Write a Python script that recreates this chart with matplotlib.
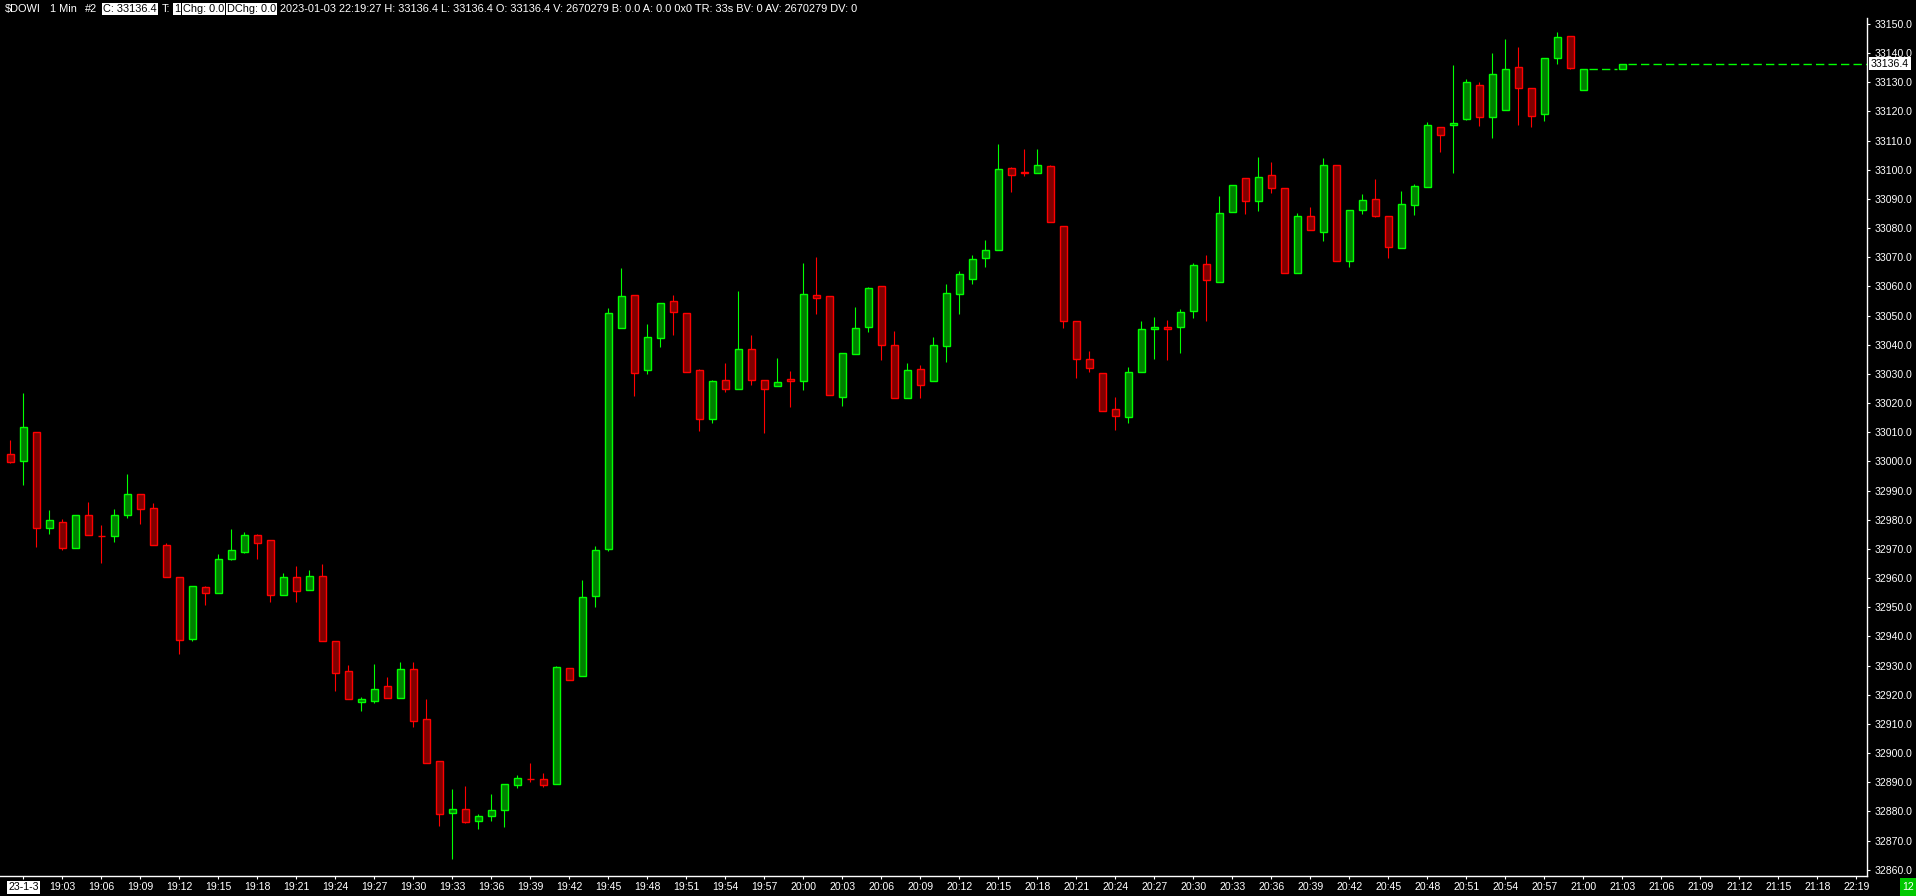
import matplotlib
matplotlib.use("Agg")
import matplotlib.pyplot as plt
import matplotlib.transforms as mtransforms
from matplotlib.patches import Rectangle

plt.rcParams['font.family'] = ['Liberation Sans', 'DejaVu Sans']

# 1 minute bars of $DOWI, 2023-01-03, bar index 0 = 18:59
bar_index = list(range(122)) + [124]

opens = [33002.4, 33000.0, 33010.0, 32977.1, 32979.4, 32970.2, 32981.5, 32974.6, 32974.3, 32981.5,
         32988.7, 32983.9, 32971.2, 32960.3, 32939.0, 32956.8, 32954.8, 32966.4, 32969.1, 32974.8,
         32972.9, 32954.3, 32960.3, 32955.8, 32960.6, 32938.3, 32928.0, 32917.4, 32918.0, 32922.9,
         32919.0, 32928.7, 32911.6, 32897.2, 32879.6, 32880.7, 32876.8, 32878.3, 32880.6, 32889.2,
         32891.1, 32891.0, 32889.3, 32929.1, 32926.3, 32953.7, 32969.9, 33045.6, 33057.0, 33031.2,
         33042.2, 33054.9, 33050.8, 33031.2, 33014.4, 33027.8, 33024.7, 33038.4, 33027.8, 33025.8,
         33028.2, 33027.7, 33057.0, 33056.6, 33022.0, 33036.7, 33046.0, 33060.1, 33039.8, 33021.6,
         33031.6, 33027.5, 33039.5, 33057.3, 33062.5, 33069.7, 33072.4, 33100.5, 33099.4, 33098.8,
         33101.2, 33080.6, 33048.0, 33035.0, 33030.2, 33017.9, 33015.1, 33030.6, 33045.3, 33046.0,
         33046.0, 33051.5, 33067.6, 33061.4, 33085.4, 33097.1, 33089.2, 33098.1, 33093.7, 33064.5,
         33084.1, 33078.8, 33101.5, 33068.6, 33086.1, 33089.9, 33084.1, 33073.1, 33088.1, 33094.0,
         33114.6, 33115.3, 33117.5, 33129.0, 33118.0, 33120.4, 33135.1, 33127.9, 33119.0, 33138.2,
         33145.8, 33127.3, 33134.5]
highs = [33007.4, 33023.5, 33010.0, 32983.3, 32980.1, 32981.8, 32986.1, 32978.2, 32983.7, 32995.7,
         32988.7, 32985.6, 32971.9, 32960.3, 32957.2, 32957.3, 32968.3, 32976.8, 32975.8, 32975.1,
         32972.9, 32961.7, 32964.1, 32962.8, 32964.8, 32938.3, 32930.2, 32919.2, 32930.5, 32926.1,
         32931.1, 32931.1, 32918.5, 32897.2, 32887.7, 32888.7, 32879.1, 32885.9, 32889.3, 32892.5,
         32896.6, 32893.2, 32929.8, 32929.1, 32959.3, 32971.0, 33052.5, 33066.3, 33057.0, 33047.1,
         33054.2, 33057.1, 33050.8, 33031.7, 33027.9, 33033.8, 33058.4, 33043.4, 33027.8, 33035.5,
         33031.0, 33068.1, 33070.1, 33056.6, 33037.1, 33053.0, 33059.8, 33060.1, 33044.6, 33033.8,
         33033.0, 33042.5, 33060.9, 33065.2, 33070.7, 33075.9, 33108.9, 33100.9, 33107.0, 33107.0,
         33101.5, 33080.6, 33048.0, 33037.9, 33030.2, 33022.1, 33032.4, 33048.2, 33049.5, 33048.5,
         33052.3, 33067.9, 33070.8, 33091.0, 33094.7, 33097.1, 33104.4, 33102.7, 33093.7, 33085.1,
         33087.1, 33104.1, 33101.5, 33086.1, 33091.7, 33096.9, 33084.1, 33092.7, 33095.1, 33116.4,
         33114.6, 33136.0, 33131.0, 33130.0, 33140.0, 33144.9, 33142.1, 33127.9, 33138.2, 33147.3,
         33145.8, 33134.5, 33136.4]
lows = [32999.4, 32992.0, 32970.8, 32975.2, 32969.7, 32970.2, 32974.7, 32965.3, 32972.5, 32980.7,
        32978.7, 32971.2, 32960.3, 32934.1, 32938.5, 32950.6, 32954.8, 32966.2, 32968.7, 32966.7,
        32951.9, 32954.3, 32951.9, 32955.8, 32938.3, 32921.4, 32918.6, 32914.5, 32917.3, 32919.0,
        32919.0, 32909.0, 32896.7, 32875.1, 32863.8, 32876.1, 32874.0, 32876.8, 32874.6, 32888.0,
        32890.2, 32888.5, 32889.3, 32924.9, 32926.3, 32950.2, 32969.4, 33045.6, 33022.5, 33030.1,
        33039.4, 33043.5, 33030.6, 33010.5, 33013.1, 33023.9, 33024.7, 33026.3, 33009.9, 33025.8,
        33018.8, 33024.5, 33050.7, 33022.7, 33019.1, 33036.7, 33044.5, 33034.9, 33021.6, 33021.6,
        33021.9, 33027.5, 33034.2, 33050.7, 33061.0, 33066.8, 33072.4, 33092.5, 33098.0, 33098.8,
        33082.0, 33045.9, 33028.7, 33030.8, 33017.2, 33010.9, 33013.3, 33030.6, 33035.2, 33034.9,
        33037.3, 33049.3, 33048.3, 33061.4, 33085.4, 33085.0, 33086.0, 33092.2, 33064.5, 33064.5,
        33079.3, 33075.7, 33068.6, 33066.8, 33085.0, 33083.9, 33069.9, 33073.1, 33084.5, 33094.0,
        33106.1, 33099.0, 33117.2, 33115.1, 33111.0, 33120.4, 33115.5, 33114.8, 33116.9, 33136.4,
        33134.5, 33127.3, 33134.5]
closes = [32999.7, 33011.7, 32977.1, 32979.8, 32970.2, 32981.8, 32974.7, 32974.5, 32981.5, 32988.7,
          32983.8, 32971.2, 32960.3, 32938.7, 32957.2, 32954.8, 32966.4, 32969.5, 32974.7, 32972.1,
          32954.1, 32960.3, 32955.4, 32960.6, 32938.3, 32927.3, 32918.6, 32918.4, 32921.9, 32919.0,
          32928.7, 32911.1, 32896.7, 32879.0, 32880.7, 32876.5, 32878.3, 32880.3, 32889.3, 32891.3,
          32891.0, 32889.2, 32929.5, 32924.9, 32953.4, 32969.5, 33050.8, 33056.6, 33030.2, 33042.6,
          33054.2, 33051.1, 33030.6, 33014.4, 33027.5, 33024.7, 33038.4, 33027.8, 33024.7, 33027.1,
          33027.5, 33057.3, 33055.9, 33022.7, 33037.1, 33045.6, 33059.4, 33039.8, 33021.6, 33031.3,
          33026.1, 33039.8, 33057.7, 33064.2, 33069.3, 33072.4, 33100.2, 33098.1, 33098.8, 33101.5,
          33082.0, 33048.0, 33035.0, 33031.9, 33017.2, 33015.5, 33030.6, 33045.3, 33046.0, 33045.3,
          33051.1, 33067.3, 33062.1, 33085.1, 33094.7, 33089.2, 33097.4, 33093.7, 33064.5, 33084.1,
          33079.3, 33101.5, 33068.6, 33086.1, 33089.5, 33084.3, 33073.4, 33088.2, 33094.3, 33115.3,
          33111.8, 33115.9, 33130.0, 33118.0, 33133.0, 33134.5, 33127.9, 33118.4, 33138.2, 33145.4,
          33134.8, 33134.5, 33136.4]

last_price = 33136.4

price_ticks = list(range(32860, 33151, 10))
time_tick_pos = [1, 4, 7, 10, 13, 16, 19, 22, 25, 28, 31, 34, 37, 40, 43, 46, 49, 52, 55, 58, 61,
                 64, 67, 70, 73, 76, 79, 82, 85, 88, 91, 94, 97, 100, 103, 106, 109, 112, 115, 118,
                 121, 124, 127, 130, 133, 136, 139, 142]
time_tick_labels = ['23-1-3', '19:03', '19:06', '19:09', '19:12', '19:15', '19:18', '19:21', '19:24',
                    '19:27', '19:30', '19:33', '19:36', '19:39', '19:42', '19:45', '19:48', '19:51',
                    '19:54', '19:57', '20:00', '20:03', '20:06', '20:09', '20:12', '20:15', '20:18',
                    '20:21', '20:24', '20:27', '20:30', '20:33', '20:36', '20:39', '20:42', '20:45',
                    '20:48', '20:51', '20:54', '20:57', '21:00', '21:03', '21:06', '21:09', '21:12',
                    '21:15', '21:18', '22:19']

W, H = 1916, 896
UP_EDGE, UP_FILL = '#00ff00', '#008000'
DN_EDGE, DN_FILL = '#ff0000', '#800000'

fig = plt.figure(figsize=(W / 100, H / 100), dpi=100, facecolor='black')
ax = fig.add_axes([0, 20 / H, 1867 / W, (876 - 18) / H])
ax.set_facecolor('black')

# candles
edge_cols = [UP_EDGE if c >= o else DN_EDGE for o, c in zip(opens, closes)]
fill_cols = [UP_FILL if c >= o else DN_FILL for o, c in zip(opens, closes)]
ax.vlines(bar_index, lows, highs, colors=edge_cols, linewidth=0.8, zorder=1)
bottoms = [min(o, c) for o, c in zip(opens, closes)]
heights = [max(abs(c - o), 0.05) for o, c in zip(opens, closes)]
ax.bar(bar_index, heights, bottom=bottoms, width=0.55, color=fill_cols,
       edgecolor=edge_cols, linewidth=1.0, zorder=2)

# last price line
ax.hlines(closes[-2], bar_index[-2] + 0.4, bar_index[-1] - 0.4, colors=UP_EDGE,
          linestyles=(0, (6, 3)), linewidth=1.0)
ax.hlines(last_price, bar_index[-1] + 0.4, 143, colors=UP_EDGE,
          linestyles=(0, (6, 3)), linewidth=1.0)

ax.set_xlim(-0.792, 142.82)
ax.set_ylim(33150 - (876 - 24) / 2.9162, 33150 + (24 - 18) / 2.9162)

for s in ['left', 'top']:
    ax.spines[s].set_visible(False)
for s in ['right', 'bottom']:
    ax.spines[s].set_color('white')
    ax.spines[s].set_linewidth(1.0)

ax.yaxis.tick_right()
ax.set_yticks(price_ticks)
ax.set_yticklabels(['%.1f' % p for p in price_ticks])
ax.tick_params(axis='y', colors='white', labelcolor='white', length=2.5, pad=3, labelsize=7.6)
ax.set_xticks(time_tick_pos)
ax.set_xticklabels(time_tick_labels)
ax.tick_params(axis='x', colors='white', labelcolor='white', length=2.5, pad=2, labelsize=7.6)
first = ax.get_xticklabels()[0]
first.set_color('black')
first.set_bbox(dict(facecolor='white', edgecolor='none', pad=1))

# current price box on the price axis
tr = mtransforms.blended_transform_factory(fig.transFigure, ax.transData)
fig.text(1871 / W, last_price, '%.1f' % last_price, transform=tr, ha='left', va='center',
         fontsize=7.6, color='black', bbox=dict(facecolor='white', edgecolor='none', pad=1.2))

# green counter box bottom right
fig.patches.append(Rectangle((1900 / W, 0), 16 / W, 18 / H, transform=fig.transFigure,
                             facecolor='#00c800', edgecolor='none'))
fig.text(1908 / W, 1 - 887 / H, '12', ha='center', va='center', fontsize=7.6, color='white')

# header line
hy = 1 - 9 / H
plain = [(5, '$DOWI'), (50, '1 Min'), (85, '#2'), (162, 'T:'),
         (280, '2023-01-03 22:19:27 H: 33136.4 L: 33136.4 O: 33136.4 V: 2670279 B: 0.0 A: 0.0 0x0 '
               'TR: 33s BV: 0 AV: 2670279 DV: 0')]
boxed = [(103, 'C: 33136.4'), (174, '1'), (183, 'Chg: 0.0'), (227, 'DChg: 0.0')]
for x, s in plain:
    fig.text(x / W, hy, s, ha='left', va='center', fontsize=7.9, color='white')
for x, s in boxed:
    fig.text(x / W, hy, s, ha='left', va='center', fontsize=7.9, color='black',
             bbox=dict(facecolor='white', edgecolor='none', pad=0.8))

fig.savefig('out.png', dpi=100, facecolor='black')
